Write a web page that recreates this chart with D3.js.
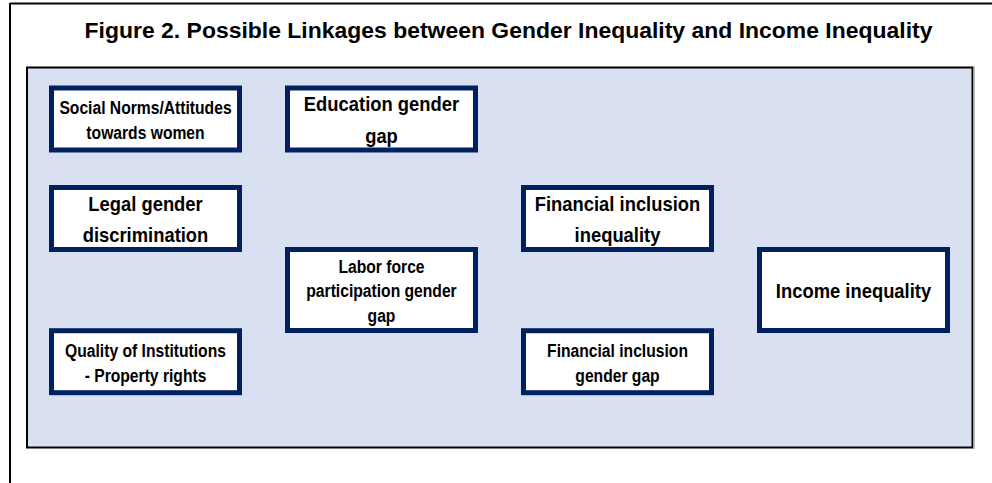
<!DOCTYPE html>
<html>
<head>
<meta charset="utf-8">
<script src="https://cdn.jsdelivr.net/npm/d3@7"></script>
<style>
  html, body { margin: 0; padding: 0; background: #ffffff; }
  svg { display: block; }
  text { font-family: "Liberation Sans", Arial, sans-serif; font-weight: bold; fill: #000; }
</style>
</head>
<body>
<svg id="chart" width="992" height="483"></svg>
<script>
// ---- data ----
const titleText = "Figure 2. Possible Linkages between Gender Inequality and Income Inequality";
const boxLabels = [
  ["Social Norms/Attitudes", "towards women"],
  ["Legal gender", "discrimination"],
  ["Quality of Institutions", "- Property rights"],
  ["Education gender", "gap"],
  ["Labor force", "participation gender", "gap"],
  ["Financial inclusion", "inequality"],
  ["Financial inclusion", "gender gap"],
  ["Income inequality"]
];
const boxColumns = [0, 0, 0, 1, 1, 2, 2, 3];
const boxRows = ["r1", "r2", "r4", "r1", "r3", "r2", "r4", "r3"];
const boxTextSize = ["small", "large", "small", "large", "small", "large", "small", "large"];
const boxTall = [false, false, false, false, true, false, false, true];

// ---- layout ----
const svg = d3.select("#chart");
const W = 992, H = 483;

const xCol = d3.scaleLinear().domain([0, 3]).range([145.5, 853.5]);
const yRow = d3.scaleOrdinal().domain(["r1", "r2", "r3", "r4"]).range([119, 218.5, 290, 361.7]);
const fontSize = { small: 18, large: 20 };
const condense = { small: 0.87, large: 0.92 };
const lineHeight = { small: 24.8, large: 31.5 };
const boxW = 193, boxH = 67, boxHTall = 86, sw = 5;

// outer frame (top and left lines)
svg.append("line").attr("x1", 10).attr("x2", W).attr("y1", 3.5).attr("y2", 3.5)
  .attr("stroke", "#000").attr("stroke-width", 2);
svg.append("line").attr("x1", 10).attr("x2", 10).attr("y1", 3).attr("y2", H)
  .attr("stroke", "#000").attr("stroke-width", 2);

// title
svg.append("text")
  .attr("transform", `translate(508.5,37.5) scale(1.02,1)`)
  .attr("text-anchor", "middle")
  .attr("font-size", 22.5)
  .text(titleText);

// inner panel
svg.append("rect")
  .attr("x", 27).attr("y", 67.5).attr("width", 945.5).attr("height", 380)
  .attr("fill", "#D9E0F1").attr("stroke", "#000").attr("stroke-width", 2);
svg.append("line").attr("x1", 974).attr("x2", 974).attr("y1", 66).attr("y2", 449)
  .attr("stroke", "#A9A9AE").attr("stroke-width", 1.5);

// boxes
const data = boxLabels.map((lines, i) => ({
  lines, col: boxColumns[i], row: boxRows[i], size: boxTextSize[i], tall: boxTall[i]
}));

const g = svg.selectAll("g.box").data(data).join("g").attr("class", "box")
  .attr("transform", d => `translate(${xCol(d.col)},${yRow(d.row)})`);

g.append("rect")
  .attr("x", -boxW / 2 + sw / 2)
  .attr("y", d => -(d.tall ? boxHTall : boxH) / 2 + sw / 2)
  .attr("width", boxW - sw)
  .attr("height", d => (d.tall ? boxHTall : boxH) - sw)
  .attr("fill", "#ffffff")
  .attr("stroke", "#002060")
  .attr("stroke-width", sw);

g.each(function (d) {
  const fs = fontSize[d.size], lh = lineHeight[d.size], c = condense[d.size];
  const n = d.lines.length;
  d3.select(this).selectAll("text").data(d.lines).join("text")
    .attr("text-anchor", "middle")
    .attr("font-size", fs)
    .attr("transform", (t, i) => `translate(0,${(i - (n - 1) / 2) * lh + fs * 0.716 / 2 + 1}) scale(${c},1)`)
    .text(t => t);
});
</script>
</body>
</html>
